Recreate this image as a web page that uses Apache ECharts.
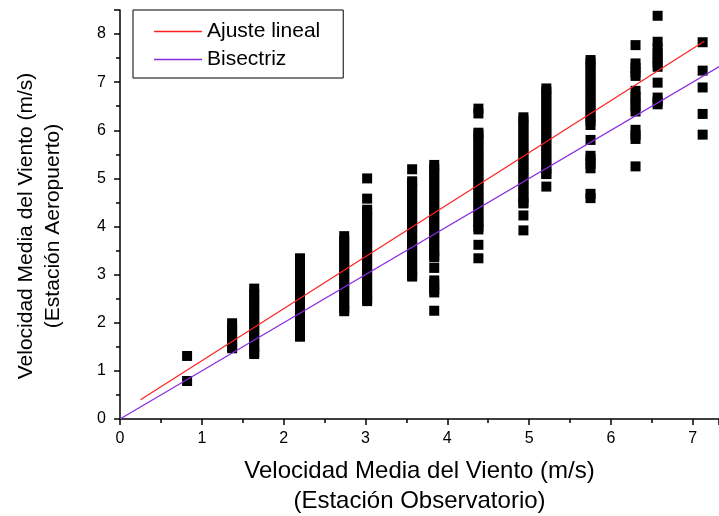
<!DOCTYPE html>
<html>
<head>
<meta charset="utf-8">
<script src="https://cdn.jsdelivr.net/npm/echarts@6/dist/echarts.min.js"></script>
<style>
  html, body { margin: 0; padding: 0; background: #fff; }
  #chart { width: 719px; height: 516px; }
</style>
</head>
<body>
<div id="chart"></div>
<script>
  // velocidad en la estación observatorio (columnas)
  const obsX = [0.82, 1.37, 1.64, 2.20, 2.74, 3.02, 3.57, 3.84, 4.38, 4.93, 5.21, 5.75, 6.30, 6.57, 7.12]
  // velocidades del aeropuerto para cada columna
  const aeroY = [
    [1.31, 0.79],
    [1.99, 1.9, 1.8, 1.7, 1.6, 1.5, 1.47],
    [2.71, 2.6, 2.5, 2.4, 2.3, 2.2, 2.1, 2.0, 1.9, 1.8, 1.7, 1.6, 1.5, 1.4, 1.35],
    [3.34, 3.2, 3.1, 3.0, 2.9, 2.8, 2.7, 2.6, 2.5, 2.4, 2.3, 2.2, 2.1, 2.0, 1.9, 1.8, 1.71],
    [3.80, 3.7, 3.6, 3.5, 3.4, 3.3, 3.2, 3.1, 3.0, 2.9, 2.8, 2.7, 2.6, 2.5, 2.4, 2.3, 2.24],
    [5.00, 4.58, 4.35, 4.3, 4.2, 4.1, 4.0, 3.9, 3.8, 3.7, 3.6, 3.5, 3.4, 3.3, 3.2, 3.1, 3.0, 2.9, 2.8, 2.7, 2.6, 2.5, 2.45],
    [5.19, 4.94, 4.9, 4.8, 4.7, 4.6, 4.5, 4.4, 4.3, 4.2, 4.1, 4.0, 3.9, 3.8, 3.7, 3.6, 3.5, 3.4, 3.3, 3.2, 3.1, 3.0, 2.96],
    [5.28, 5.2, 5.1, 5.0, 4.9, 4.8, 4.7, 4.6, 4.5, 4.4, 4.3, 4.2, 4.1, 4.0, 3.9, 3.8, 3.7, 3.6, 3.5, 3.4, 3.36, 3.14, 2.88, 2.8, 2.7, 2.63, 2.25],
    [6.45, 6.35, 5.95, 5.9, 5.8, 5.7, 5.6, 5.5, 5.4, 5.3, 5.2, 5.1, 5.0, 4.9, 4.8, 4.7, 4.6, 4.5, 4.4, 4.3, 4.2, 4.1, 4.0, 3.94, 3.62, 3.34],
    [6.27, 6.2, 6.1, 6.0, 5.9, 5.8, 5.7, 5.6, 5.5, 5.4, 5.3, 5.2, 5.1, 5.0, 4.9, 4.8, 4.7, 4.6, 4.5, 4.48, 4.23, 3.92],
    [6.87, 6.8, 6.7, 6.6, 6.5, 6.4, 6.3, 6.2, 6.1, 6.0, 5.9, 5.8, 5.7, 5.6, 5.5, 5.4, 5.3, 5.2, 5.1, 5.09, 4.83],
    [7.46, 7.4, 7.3, 7.2, 7.1, 7.0, 6.9, 6.8, 6.7, 6.6, 6.5, 6.4, 6.3, 6.2, 6.11, 5.80, 5.47, 5.4, 5.3, 5.21, 4.68, 4.59],
    [7.77, 7.39, 7.3, 7.2, 7.13, 6.82, 6.7, 6.6, 6.5, 6.39, 6.01, 5.9, 5.82, 5.25],
    [8.38, 7.84, 7.7, 7.6, 7.5, 7.4, 7.32, 6.99, 6.68, 6.6, 6.54],
    [7.83, 7.24, 6.89, 6.34, 5.91]
  ]
  // recta de ajuste (extremos)
  const fitX = [0.25, 7.14]
  const fitY = [0.40, 7.85]
  // bisectriz y = x
  const bisX = [0, 7.6]
  const bisY = [0, 7.6]

  const scatterData = []
  obsX.forEach((x, i) => {
    aeroY[i].forEach(y => scatterData.push([x, y]))
  })

  const font = 'Liberation Sans, Arial, sans-serif'
  const chart = echarts.init(document.getElementById('chart'))

  const option = {
    animation: false,
    backgroundColor: '#fff',
    textStyle: { fontFamily: font, color: '#000' },
    grid: { left: 120, right: 0, top: 10, bottom: 97, outerBoundsMode: 'none', containLabel: false },
    legend: {
      orient: 'vertical',
      left: 133,
      top: 10,
      padding: [11, 23, 8, 21],
      borderColor: '#000',
      borderWidth: 1,
      icon: 'rect',
      itemWidth: 48,
      itemHeight: 1.3,
      itemGap: 7,
      data: ['Ajuste lineal', 'Bisectriz'],
      textStyle: { fontFamily: font, fontSize: 21, color: '#000' }
    },
    // título del eje Y como texto rotado
    graphic: [{
      type: 'text',
      x: 40,
      y: 226,
      rotation: Math.PI / 2,
      style: {
        text: 'Velocidad Media del Viento (m/s)\n(Estación Aeropuerto)',
        font: '21px ' + font,
        lineHeight: 27,
        fill: '#000',
        align: 'center',
        verticalAlign: 'middle'
      }
    }],
    xAxis: {
      type: 'value',
      min: 0,
      max: 7.32,
      interval: 1,
      name: 'Velocidad Media del Viento (m/s)\n(Estación Observatorio)',
      nameLocation: 'middle',
      nameGap: 37,
      nameTextStyle: { fontFamily: font, fontSize: 24, lineHeight: 30, color: '#000' },
      axisLine: { onZero: false, lineStyle: { color: '#000', width: 1.5 } },
      axisTick: { length: 6, lineStyle: { color: '#000', width: 1.5 } },
      minorTick: { show: true, splitNumber: 2, length: 4, lineStyle: { color: '#000', width: 1.5 } },
      axisLabel: { fontFamily: font, fontSize: 16, color: '#000', margin: 12, showMaxLabel: false },
      splitLine: { show: false }
    },
    yAxis: {
      type: 'value',
      min: 0,
      max: 8.5,
      interval: 1,
      axisLine: { show: true, onZero: false, lineStyle: { color: '#000', width: 1.5 } },
      axisTick: { show: true, length: 6, lineStyle: { color: '#000', width: 1.5 } },
      minorTick: { show: true, splitNumber: 2, length: 4, lineStyle: { color: '#000', width: 1.5 } },
      axisLabel: { fontFamily: font, fontSize: 16, color: '#000', margin: 14, showMaxLabel: false },
      splitLine: { show: false }
    },
    series: [
      {
        name: 'datos',
        type: 'scatter',
        symbol: 'rect',
        symbolSize: 10,
        itemStyle: { color: '#000', opacity: 1 },
        data: scatterData,
        z: 2
      },
      {
        name: 'Ajuste lineal',
        type: 'line',
        symbol: 'none',
        lineStyle: { color: '#ff2020', width: 1.2 },
        itemStyle: { color: '#ff2020' },
        data: fitX.map((x, i) => [x, fitY[i]]),
        z: 3
      },
      {
        name: 'Bisectriz',
        type: 'line',
        symbol: 'none',
        clip: true,
        lineStyle: { color: '#8a2be2', width: 1.2 },
        itemStyle: { color: '#8a2be2' },
        data: bisX.map((x, i) => [x, bisY[i]]),
        z: 3
      }
    ]
  }
  chart.setOption(option)
</script>
</body>
</html>
